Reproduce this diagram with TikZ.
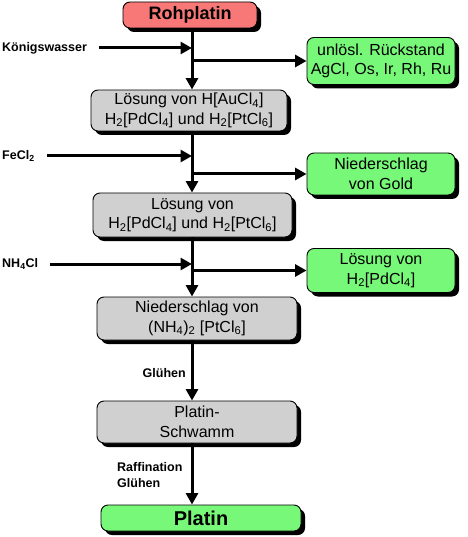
\documentclass[tikz,border=0pt]{standalone}
\usepackage{fontspec}
\setmainfont{Liberation Sans}
\usetikzlibrary{shadows,arrows.meta}
\definecolor{salmon}{HTML}{F87878}
\definecolor{lgreen}{HTML}{78F878}
\definecolor{lgray}{HTML}{D0D0D0}
\tikzset{
  box/.style={draw=black, line width=0.9pt, rounded corners=7pt, align=center,
    inner sep=0pt, font=\fontsize{16}{19.5}\selectfont,
    drop shadow={shadow xshift=4pt, shadow yshift=-4pt, fill=black, opacity=1}},
  graybox/.style={box, fill=lgray},
  greenbox/.style={box, fill=lgreen},
  flow/.style={line width=3pt, -{Triangle[length=11.5pt,width=12pt]}},
  lbl/.style={font=\bfseries\fontsize{12.5}{16}\selectfont, inner sep=0pt}
}
\begin{document}
\begin{tikzpicture}[x=1pt,y=-1pt]
\fill[white] (0,0) rectangle (467,537);
\useasboundingbox (0,0) rectangle (467,537);
\coordinate (sp) at (192,0);
% main boxes
\node[box, fill=salmon, minimum width=134pt, minimum height=26pt,
  font=\bfseries\fontsize{18}{20}\selectfont] (roh) at (190,15) {Rohplatin};
\node[graybox, minimum width=196pt, minimum height=41pt] (gray1) at (189,110.5)
  {Lösung von H[AuCl\textsubscript{4}]\\H\textsubscript{2}[PdCl\textsubscript{4}] und H\textsubscript{2}[PtCl\textsubscript{6}]};
\node[graybox, minimum width=199pt, minimum height=44pt] (gray2) at (192.5,215)
  {Lösung von\\H\textsubscript{2}[PdCl\textsubscript{4}] und H\textsubscript{2}[PtCl\textsubscript{6}]};
\node[graybox, minimum width=200pt, minimum height=43pt] (gray3) at (197,318.5)
  {Niederschlag von\\(NH\textsubscript{4})\textsubscript{2} [PtCl\textsubscript{6}]};
\node[graybox, minimum width=200pt, minimum height=42pt] (gray4) at (197,422)
  {Platin-\\Schwamm};
\node[greenbox, minimum width=200pt, minimum height=26pt,
  font=\bfseries\fontsize{20}{22}\selectfont] (platin) at (201,518) {Platin};
% side boxes
\node[greenbox, minimum width=148pt, minimum height=47pt] (g1) at (381,61)
  {unlösl. Rückstand\\AgCl, Os, Ir, Rh, Ru};
\node[greenbox, minimum width=148pt, minimum height=42pt] (g2) at (381,174)
  {Niederschlag\\von Gold};
\node[greenbox, minimum width=148pt, minimum height=44pt] (g3) at (381,270.5)
  {Lösung von\\H\textsubscript{2}[PdCl\textsubscript{4}]};
% labels
\node[lbl, anchor=west] (kw) at (2,48) {Königswasser};
\node[lbl, anchor=west] (fe) at (2,156) {FeCl\textsubscript{2}};
\node[lbl, anchor=west] (nh) at (2,264) {NH\textsubscript{4}Cl};
\node[lbl, anchor=east] (gl) at (186,373) {Glühen};
\node[lbl, anchor=north west, align=left] (rf) at (117,462) {Raffination\\Glühen};
% spine
\draw[flow] (roh.south -| sp) -- (gray1.north -| sp);
\draw[flow] (gray1.south -| sp) -- (gray2.north -| sp);
\draw[flow] (gray2.south -| sp) -- (gray3.north -| sp);
\draw[flow] (gray3.south -| sp) -- (gray4.north -| sp);
\draw[flow] (gray4.south -| sp) -- (platin.north -| sp);
% inputs
\draw[flow] ([xshift=12pt]kw.east) -- (kw -| sp);
\draw[flow] ([xshift=12pt]fe.east) -- (fe -| sp);
\draw[flow] ([xshift=12pt]nh.east) -- (nh -| sp);
% outputs
\draw[flow] (g1.west -| sp) -- (g1.west);
\draw[flow] (g2.west -| sp) -- (g2.west);
\draw[flow] (g3.west -| sp) -- (g3.west);
\end{tikzpicture}
\end{document}
